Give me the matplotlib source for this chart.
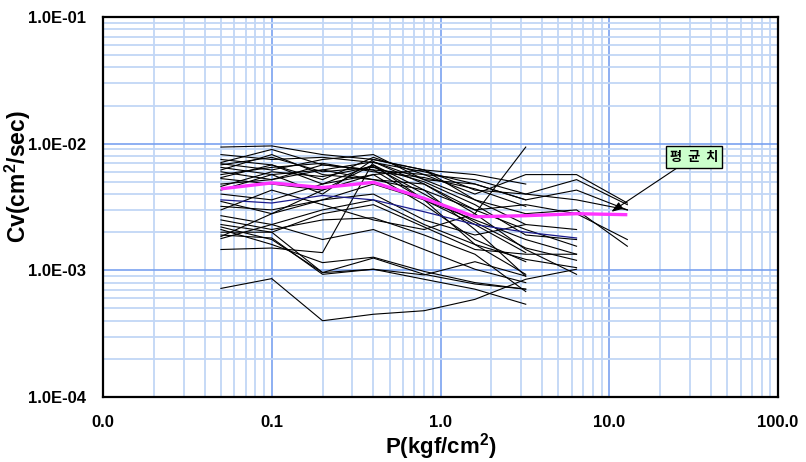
import matplotlib
matplotlib.use("Agg")
import matplotlib.pyplot as plt
from matplotlib.ticker import LogLocator, FixedLocator, FixedFormatter, NullFormatter

plt.rcParams['font.family'] = ['Liberation Sans', 'DejaVu Sans']
plt.rcParams['mathtext.fontset'] = 'custom'
plt.rcParams['mathtext.bf'] = 'Liberation Sans:bold'
plt.rcParams['mathtext.rm'] = 'Liberation Sans:bold'

# Consolidation pressure steps (kgf/cm^2)
pressure = [0.05, 0.1, 0.2, 0.4, 0.8, 1.6, 3.2, 6.4, 12.8]

# Cv per specimen, in units of 1e-3 cm^2/sec (series stop at their last load step)
cv_specimens_e3 = [
    [9.4, 9.6, 8.2, 7.5, 6.2, 5.7, 4.8],
    [7.1, 9.0, 6.8, 6.2, 5.7, 5.2, 4.0, 3.6, 3.0],
    [6.95, 6.2, 7.5, 8.2, 5.2, 3.6, 2.3],
    [6.5, 5.7, 6.2, 7.2, 4.8, 2.8, 1.46, 0.93],
    [6.2, 8.2, 5.7, 5.2, 4.3, 3.0, 2.1, 1.55],
    [6.0, 5.2, 6.8, 6.2, 3.6, 2.3, 1.38],
    [5.4, 6.8, 5.2, 7.8, 5.7, 4.0, 5.7, 5.7, 3.4],
    [5.3, 4.8, 4.3, 5.7, 3.3, 1.75, 1.17],
    [4.0, 3.6, 4.8, 6.8, 4.3, 2.1, 0.9],
    [3.5, 2.8, 4.3, 6.8, 3.6, 1.6, 0.93],
    [3.2, 3.0, 3.6, 4.0, 2.5, 1.9, 2.3, 2.1],
    [3.0, 4.3, 3.3, 2.5, 2.1, 2.8, 9.4],
    [2.7, 2.3, 3.0, 3.6, 2.3, 1.6, 1.22, 1.05],
    [2.5, 2.1, 2.5, 2.6, 1.9, 1.34, 0.68],
    [2.3, 2.0, 2.8, 3.3, 2.2, 1.46, 1.34, 1.34],
    [2.2, 1.75, 0.96, 1.25, 0.93, 0.78, 0.71],
    [2.0, 2.0, 0.96, 1.02, 0.85, 0.71, 0.54],
    [1.85, 2.8, 3.6, 4.8, 3.6, 2.5, 1.75, 1.34],
    [1.78, 2.3, 1.75, 2.1, 1.46, 1.02, 0.8],
    [1.46, 1.5, 1.38, 7.2, 5.2, 4.8, 3.6, 4.3, 3.0],
    [0.72, 0.86, 0.40, 0.45, 0.48, 0.59, 0.85, 1.02],
    [4.3, 5.7, 4.0, 7.5, 6.2, 4.3, 4.0, 5.2, 3.3],
    [4.8, 5.2, 6.2, 5.2, 4.8, 3.0, 3.3, 2.8, 1.75],
    [7.5, 6.8, 4.8, 5.7, 6.2, 3.6, 2.8, 3.0, 1.55],
    [2.1, 1.6, 1.15, 1.27, 0.98, 0.8, 0.71],
    [1.9, 1.8, 0.93, 1.02, 0.92, 1.17, 0.9],
    [8.2, 7.5, 7.8, 7.1, 6.0, 4.8, 3.6],
    [6.8, 7.8, 6.0, 6.5, 5.0, 3.3, 1.9, 1.75],
    [5.7, 6.5, 7.0, 6.0, 5.4, 4.4, 3.2],
    [4.6, 6.0, 5.5, 6.6, 4.0, 2.4, 1.5, 1.2],
]

# One specimen drawn in dark blue
cv_blue_e3 = [3.6, 3.4, 3.9, 3.6, 2.9, 2.3, 2.0, 1.8]

# Mean Cv curve
cv_mean_e3 = [4.4, 4.9, 4.5, 4.95, 3.7, 2.65, 2.7, 2.8, 2.75]

x_ticks = [0.01, 0.1, 1, 10, 100]
x_tick_labels = ["0.0", "0.1", "1.0", "10.0", "100.0"]
y_ticks = [1e-4, 1e-3, 1e-2, 1e-1]
y_tick_labels = ["1.0E-04", "1.0E-03", "1.0E-02", "1.0E-01"]

fig = plt.figure(figsize=(8.06, 4.62), dpi=100)
ax = fig.add_axes([103 / 806, 1 - 397 / 462, 675 / 806, 380 / 462])
ax.set_xscale('log')
ax.set_yscale('log')
ax.set_xlim(0.01, 100)
ax.set_ylim(1e-4, 1e-1)

# grid
ax.xaxis.set_major_locator(FixedLocator(x_ticks))
ax.xaxis.set_major_formatter(FixedFormatter(x_tick_labels))
ax.yaxis.set_major_locator(FixedLocator(y_ticks))
ax.yaxis.set_major_formatter(FixedFormatter(y_tick_labels))
ax.xaxis.set_minor_locator(LogLocator(base=10, subs=range(2, 10), numticks=20))
ax.yaxis.set_minor_locator(LogLocator(base=10, subs=range(2, 10), numticks=20))
ax.xaxis.set_minor_formatter(NullFormatter())
ax.yaxis.set_minor_formatter(NullFormatter())
ax.grid(which='minor', color='#c2d7f6', linewidth=1.3)
ax.grid(which='major', color='#7aa2f0', linewidth=1.2)
ax.set_axisbelow(True)
ax.tick_params(which='both', length=0)
ax.tick_params(axis='x', pad=13, labelsize=12)
ax.tick_params(axis='y', pad=12, labelsize=12)
for lab in ax.get_xticklabels() + ax.get_yticklabels():
    lab.set_fontweight('bold')
for sp in ax.spines.values():
    sp.set_linewidth(1.6)
    sp.set_color('black')

for vals in cv_specimens_e3:
    ax.plot(pressure[:len(vals)], [v * 1e-3 for v in vals], color='black', lw=0.8)
ax.plot(pressure[:len(cv_blue_e3)], [v * 1e-3 for v in cv_blue_e3], color='#1a1a8c', lw=0.9)
ax.plot(pressure, [v * 1e-3 for v in cv_mean_e3], color='#ff33ff', lw=2.4, solid_capstyle='butt')

ax.annotate("평  균  치", xy=(10.3, 2.9e-3), xytext=(31.8, 7.9e-3),
            textcoords='data', ha='center', va='center',
            fontsize=9.5, fontweight='bold',
            family=['Noto Sans CJK KR', 'DejaVu Sans'],
            bbox=dict(boxstyle='square,pad=0.3', fc='#ccffcc', ec='black', lw=1.0),
            arrowprops=dict(arrowstyle='-|>,head_length=0.7,head_width=0.25',
                            color='black', lw=0.8, shrinkA=0, shrinkB=0))

ax.set_xlabel(r"P(kgf/cm$^\mathbf{2}$)", fontsize=16, fontweight='bold', labelpad=1)
ax.set_ylabel(r"Cv(cm$^\mathbf{2}$/sec)", fontsize=16.5, fontweight='bold')
ax.yaxis.set_label_coords(-0.103, 0.58)

fig.savefig("out.png", dpi=100)
